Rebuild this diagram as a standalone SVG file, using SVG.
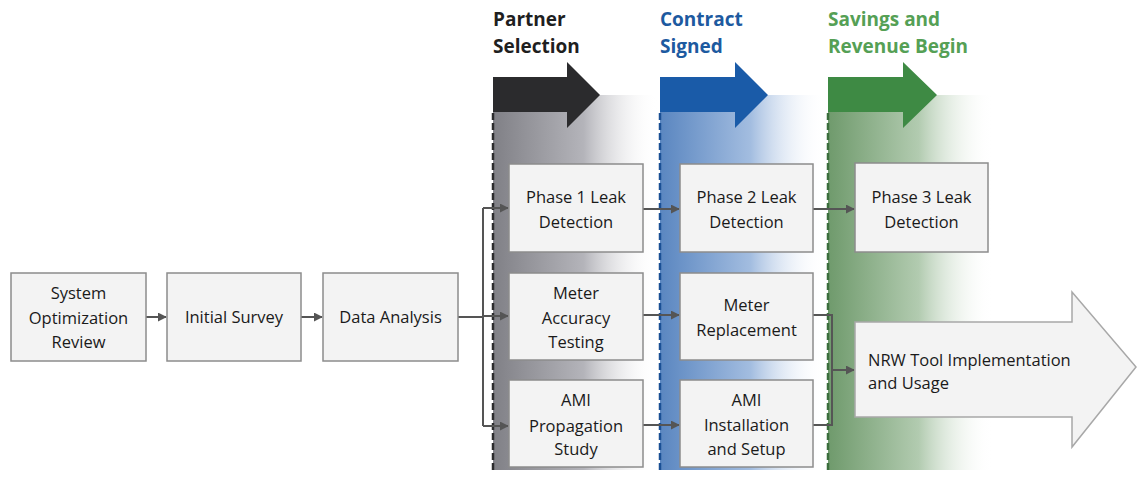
<svg xmlns="http://www.w3.org/2000/svg" width="1137" height="477" viewBox="0 0 1137 477">
<defs>
<linearGradient id="gGray" x1="0" y1="0" x2="1" y2="0">
<stop offset="0" stop-color="#808086"/>
<stop offset="0.55" stop-color="#b4b4ba"/>
<stop offset="1" stop-color="#ffffff" stop-opacity="0"/>
</linearGradient>
<linearGradient id="gBlue" x1="0" y1="0" x2="1" y2="0">
<stop offset="0" stop-color="#5a86c0"/>
<stop offset="0.55" stop-color="#a3bde0"/>
<stop offset="1" stop-color="#ffffff" stop-opacity="0"/>
</linearGradient>
<linearGradient id="gGreen" x1="0" y1="0" x2="1" y2="0">
<stop offset="0" stop-color="#6f9a6c"/>
<stop offset="0.55" stop-color="#b2cbb0"/>
<stop offset="1" stop-color="#ffffff" stop-opacity="0"/>
</linearGradient>
<marker id="ah" viewBox="0 0 10 10" refX="9" refY="5" markerWidth="4.5" markerHeight="4.5" orient="auto" markerUnits="strokeWidth">
<path d="M0,0 L10,5 L0,10 z" fill="#555"/>
</marker>
<style>
.box{fill:#f3f3f3;stroke:#8c8c8c;stroke-width:1.5}
.arrowbox{fill:#f3f3f3;stroke:#a8a8a8;stroke-width:1.5}
.t{font-family:"Open Sans","Liberation Sans",sans-serif;font-size:16.5px;fill:#1a1a1a;text-anchor:middle}
.tl{font-family:"Open Sans","Liberation Sans",sans-serif;font-size:16.5px;fill:#1a1a1a}
.h{font-family:"Open Sans","Liberation Sans",sans-serif;font-size:19px;font-weight:bold}
.c{fill:none;stroke:#555;stroke-width:2}
.dash{fill:none;stroke-width:2.5;stroke-dasharray:7 3}
</style>
</defs>
<rect width="1137" height="477" fill="#ffffff"/>

<g id="phase-bands">
<rect x="493" y="95" width="165" height="375" fill="url(#gGray)"/>
<rect x="660" y="95" width="165" height="375" fill="url(#gBlue)"/>
<rect x="828" y="95" width="165" height="375" fill="url(#gGreen)"/>
<path d="M493,77 H567 V62 L600,95 L567,128 V112 H493 Z" fill="#2b2b2d"/>
<path d="M660,77 H735 V62 L768,95 L735,128 V112 H660 Z" fill="#1a5ba8"/>
<path d="M828,77 H903 V62 L937,95 L903,128 V112 H828 Z" fill="#3e8a44"/>
<line class="dash" x1="493" y1="113" x2="493" y2="470" stroke="#2b2b2d"/>
<line class="dash" x1="660" y1="113" x2="660" y2="470" stroke="#1a4f94"/>
<line class="dash" x1="828" y1="113" x2="828" y2="470" stroke="#3b6e3c"/>
<text class="h" x="493" y="26" fill="#1f1f1f">Partner</text>
<text class="h" x="493" y="53" fill="#1f1f1f">Selection</text>
<text class="h" x="660" y="26" fill="#1d5aa0">Contract</text>
<text class="h" x="660" y="53" fill="#1d5aa0">Signed</text>
<text class="h" x="828" y="26" fill="#55a055">Savings and</text>
<text class="h" x="828" y="53" fill="#55a055">Revenue Begin</text>
</g>

<g id="connectors">
<line class="c" x1="146" y1="317" x2="166" y2="317" marker-end="url(#ah)"/>
<line class="c" x1="301" y1="317" x2="322" y2="317" marker-end="url(#ah)"/>
<path class="c" d="M458,317 H483"/>
<path class="c" d="M483,208 V426"/>
<line class="c" x1="483" y1="208" x2="508" y2="208" marker-end="url(#ah)"/>
<line class="c" x1="483" y1="316" x2="508" y2="316" marker-end="url(#ah)"/>
<line class="c" x1="483" y1="426" x2="508" y2="426" marker-end="url(#ah)"/>
<line class="c" x1="643" y1="209" x2="679" y2="209" marker-end="url(#ah)"/>
<line class="c" x1="643" y1="315" x2="679" y2="315" marker-end="url(#ah)"/>
<line class="c" x1="643" y1="425" x2="679" y2="425" marker-end="url(#ah)"/>
<line class="c" x1="813" y1="209" x2="854" y2="209" marker-end="url(#ah)"/>
<path class="c" d="M813,315 H832 V425 H813"/>
<line class="c" x1="832" y1="370" x2="854" y2="370" marker-end="url(#ah)"/>
</g>

<g id="system-optimization-review">
<rect class="box" x="11" y="273" width="135" height="88"/>
<text class="t" x="78.5" y="299">System</text>
<text class="t" x="78.5" y="324">Optimization</text>
<text class="t" x="78.5" y="348">Review</text>
</g>
<g id="initial-survey">
<rect class="box" x="167" y="273" width="134" height="88"/>
<text class="t" x="234" y="323">Initial Survey</text>
</g>
<g id="data-analysis">
<rect class="box" x="323" y="273" width="135" height="88"/>
<text class="t" x="390.5" y="323">Data Analysis</text>
</g>

<g id="phase1-leak-detection">
<rect class="box" x="509" y="164" width="134" height="88"/>
<text class="t" x="576" y="203">Phase 1 Leak</text>
<text class="t" x="576" y="228">Detection</text>
</g>
<g id="meter-accuracy-testing">
<rect class="box" x="509" y="273" width="134" height="87"/>
<text class="t" x="576" y="299">Meter</text>
<text class="t" x="576" y="324">Accuracy</text>
<text class="t" x="576" y="348">Testing</text>
</g>
<g id="ami-propagation-study">
<rect class="box" x="509" y="380" width="134" height="87"/>
<text class="t" x="576" y="406">AMI</text>
<text class="t" x="576" y="432">Propagation</text>
<text class="t" x="576" y="455">Study</text>
</g>

<g id="phase2-leak-detection">
<rect class="box" x="680" y="164" width="133" height="88"/>
<text class="t" x="746.5" y="203">Phase 2 Leak</text>
<text class="t" x="746.5" y="228">Detection</text>
</g>
<g id="meter-replacement">
<rect class="box" x="680" y="273" width="133" height="87"/>
<text class="t" x="746.5" y="311">Meter</text>
<text class="t" x="746.5" y="336">Replacement</text>
</g>
<g id="ami-installation-setup">
<rect class="box" x="680" y="380" width="133" height="87"/>
<text class="t" x="746.5" y="406">AMI</text>
<text class="t" x="746.5" y="431">Installation</text>
<text class="t" x="746.5" y="455">and Setup</text>
</g>

<g id="phase3-leak-detection">
<rect class="box" x="855" y="163" width="133" height="89"/>
<text class="t" x="921.5" y="203">Phase 3 Leak</text>
<text class="t" x="921.5" y="228">Detection</text>
</g>
<g id="nrw-tool">
<path class="arrowbox" d="M855,322 H1072 V292 L1136,367 L1072,447 V417 H855 Z"/>
<text class="tl" x="868" y="366">NRW Tool Implementation</text>
<text class="tl" x="868" y="389">and Usage</text>
</g>
</svg>
